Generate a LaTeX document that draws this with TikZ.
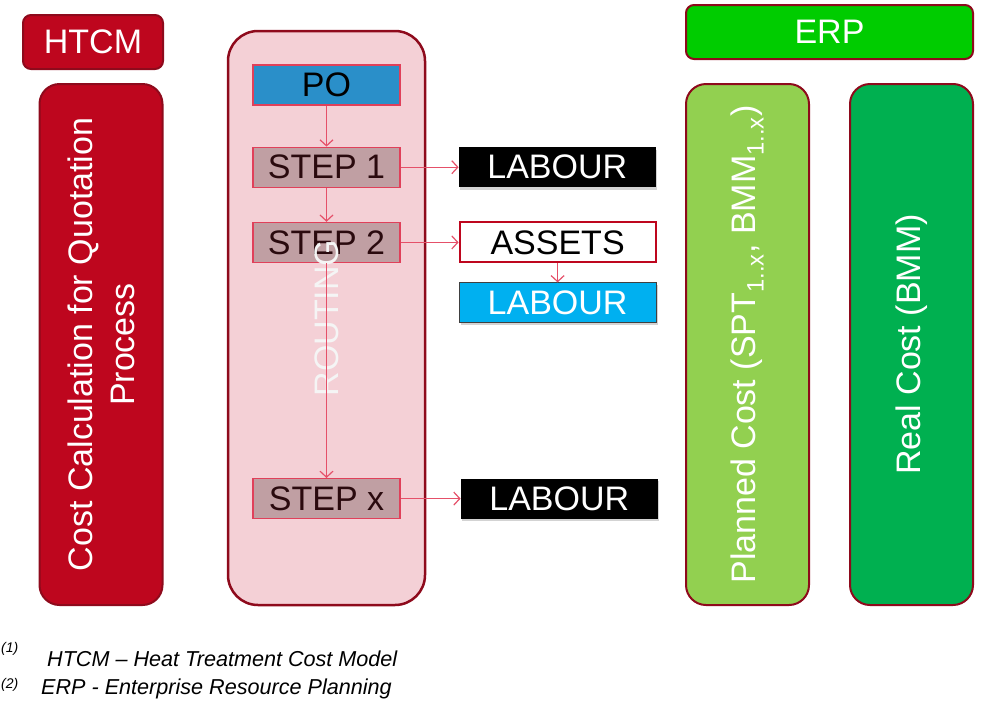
\documentclass[tikz,border=0pt]{standalone}
\usepackage{fontspec}
\setmainfont{Liberation Sans}
\usepackage{xcolor}
\usepackage{tikz}
\usetikzlibrary{arrows.meta, positioning, shadows}
\definecolor{htcmred}{HTML}{BE061E}
\definecolor{edgered}{HTML}{8E0A1C}
\definecolor{routingpink}{HTML}{F4D0D6}
\definecolor{poblue}{HTML}{2A8FC9}
\definecolor{stepfill}{HTML}{C09FA3}
\definecolor{stepred}{HTML}{E0405A}
\definecolor{steptext}{HTML}{2A0A0E}
\definecolor{arrowred}{HTML}{E55069}
\definecolor{labourblue}{HTML}{00B0F0}
\definecolor{erpgreen}{HTML}{00CC00}
\definecolor{plannedgreen}{HTML}{92D050}
\definecolor{realgreen}{HTML}{00B050}
\tikzstyle{bigfont} = [font=\fontsize{34}{42}\selectfont]
\tikzstyle{titlebox} = [rectangle, rounded corners=8pt, draw=edgered, line width=2pt, text=white, bigfont]
\tikzstyle{column} = [rectangle, rounded corners=20pt, draw=edgered, line width=2pt, rotate=90, minimum width=521pt, minimum height=123pt, text=white, align=center, bigfont]
\tikzstyle{stepbox} = [rectangle, draw=stepred, line width=1.2pt, fill=stepfill, minimum width=147pt, minimum height=40pt, text=steptext, bigfont]
\tikzstyle{labour} = [rectangle, minimum width=197pt, minimum height=40pt, fill=black, text=white, bigfont, drop shadow={shadow xshift=1.5pt, shadow yshift=-2.5pt, opacity=0.35}]
\tikzstyle{arrow} = [line width=1.2pt, draw=arrowred, -{Straight Barb[length=6pt, width=13pt]}]
\tikzstyle{footnote} = [anchor=base west, inner sep=0pt, font=\fontsize{21.6}{26}\selectfont\itshape]

\begin{document}
\begin{tikzpicture}[x=1pt, y=-1pt]
    \useasboundingbox (0,0) rectangle (988,710);
    % HTCM side
    \node[titlebox, fill=htcmred, minimum width=140pt, minimum height=54pt] (htcm) at (93,42) {HTCM};
    \node[column, fill=htcmred] (quotation) at (101,344.5) {Cost Calculation for Quotation\\Process};

    % Routing
    \node[rectangle, rounded corners=30pt, draw=edgered, line width=2.5pt, fill=routingpink, minimum width=197pt, minimum height=574pt] (routing) at (326.5,318) {};
    \node[stepbox, fill=poblue, text=black] (po) at (326.5,85) {PO};
    \node[stepbox, below=41pt of po] (step1) {STEP 1};
    \node[stepbox, below=34pt of step1] (step2) {STEP 2};
    \node[stepbox, below=215pt of step2] (stepx) {STEP x};
    \node[rotate=90, text=white!96!black, bigfont] (routinglabel) at (routing.center) {ROUTING};

    % Resources
    \node[labour, right=58pt of step1] (labour1) {LABOUR};
    \node[rectangle, draw=htcmred, line width=2pt, fill=white, minimum width=196pt, minimum height=40pt, bigfont, right=58pt of step2] (assets) {ASSETS};
    \node[labour, fill=labourblue, draw=black!75, line width=1pt, below=19pt of assets] (labour2) {LABOUR};
    \node[labour, right=60pt of stepx] (labour3) {LABOUR};

    % ERP side
    \node[titlebox, fill=erpgreen, minimum width=287pt, minimum height=54pt] (erp) at (829.5,32) {ERP};
    \node[column, fill=plannedgreen] (planned) at (747.5,344.5) {Planned Cost (SPT\textsubscript{1..x},~BMM\textsubscript{1..x})};
    \node[column, fill=realgreen] (real) at (911.5,344.5) {Real Cost (BMM)};

    % Arrows
    \draw[arrow] (po) -- (step1);
    \draw[arrow] (step1) -- (step2);
    \draw[arrow] (step2) -- (stepx);
    \draw[arrow] (step1) -- (labour1);
    \draw[arrow] (step2) -- (assets);
    \draw[arrow] (assets) -- (labour2);
    \draw[arrow] (stepx) -- (labour3);

    % Footnotes
    \node[footnote, font=\fontsize{14}{16}\selectfont\itshape] (fn1mark) at (1,652) {(1)};
    \node[footnote] (fn1) at (47,666) {HTCM -- Heat Treatment Cost Model};
    \node[footnote, font=\fontsize{14}{16}\selectfont\itshape] (fn2mark) at (1,688) {(2)};
    \node[footnote] (fn2) at (41,694) {ERP - Enterprise Resource Planning};
\end{tikzpicture}
\end{document}
